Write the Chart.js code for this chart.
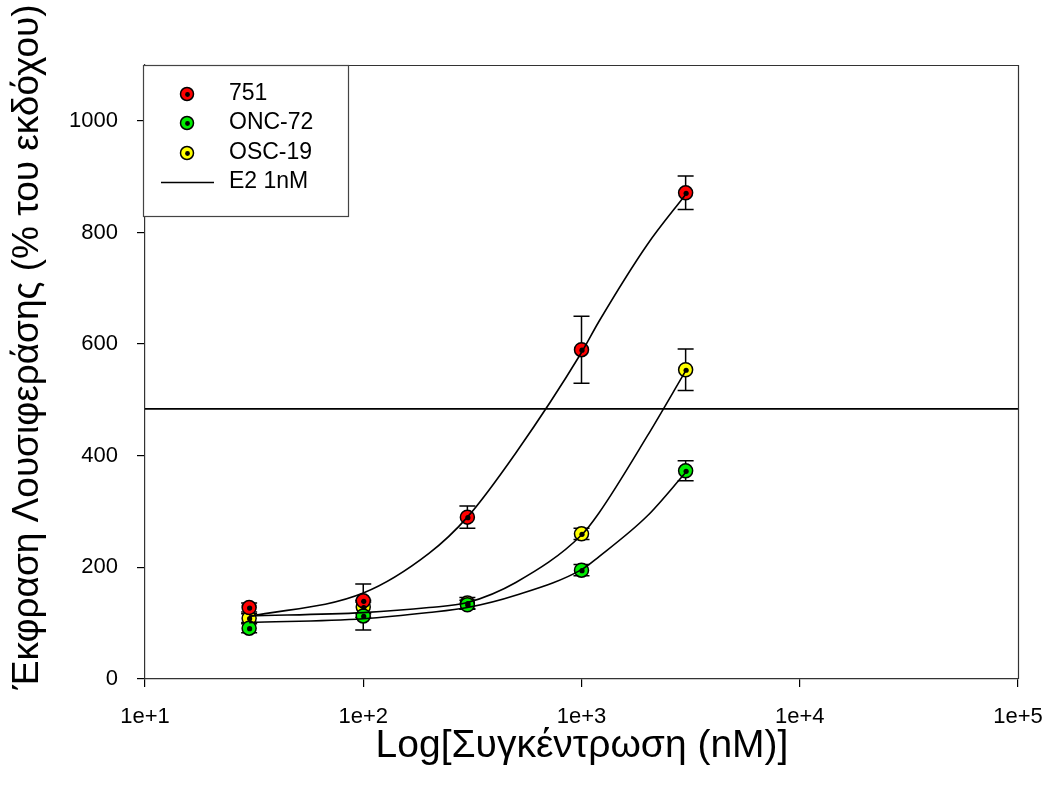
<!DOCTYPE html>
<html>
<head>
<meta charset="utf-8">
<script src="https://cdn.jsdelivr.net/npm/chart.js@4/dist/chart.umd.min.js"></script>
<style>
html,body{margin:0;padding:0;background:#fff;}
#wrap{width:1048px;height:792px;position:relative;}
</style>
</head>
<body>
<div id="wrap"><canvas id="c" width="1048" height="792"></canvas></div>
<script>
// ---- data ----
const concentrations = [30, 100, 300, 1000, 3000];
const series751 = [128, 140, 290, 590, 871];
const err751 = [8, 30, 20, 60, 30];
const seriesONC72 = [91, 113, 133, 195, 373];
const errONC72 = [8, 25, 8, 10, 18];
const seriesOSC19 = [109, 129, 136, 260, 554];
const errOSC19 = [8, 12, 10, 10, 37];

// fitted curves
const fitX = [30, 100, 200, 300, 500, 1000, 1200, 2000, 3000];
const fit751 = [112, 154, 225, 290, 405, 585, 640, 778, 868];
const fitOSC19 = [113, 119, 128, 137, 173, 258, 297, 435, 552];
const fitONC72 = [101, 108, 119, 128, 150, 196, 219, 292, 370];

const e2Level = 484;
const e2X = [10, 100000];

const xTicks = [10, 100, 1000, 10000, 100000];
const xTickLabels = ['1e+1', '1e+2', '1e+3', '1e+4', '1e+5'];
const yTicks = [0, 200, 400, 600, 800, 1000];

const seriesNames = ['751', 'ONC-72', 'OSC-19'];
const seriesColors = ['#ff0000', '#00ee00', '#ffff00'];
const E2Name = 'E2 1nM';

const FONT = "'Liberation Sans', Arial, sans-serif";

function pts(xs, ys){ return xs.map((x,i)=>({x:x, y:ys[i]})); }

const curveStyle = {type:'line', borderColor:'#000', borderWidth:1.6, pointRadius:0, fill:false, cubicInterpolationMode:'monotone'};
const markerStyle = (col)=>({type:'scatter', backgroundColor:col, borderColor:'#000', borderWidth:1.5, pointRadius:7, pointHoverRadius:7, showLine:false});

const datasets = [
  Object.assign({label:'fit751', data: pts(fitX, fit751)}, curveStyle),
  Object.assign({label:'fitONC72', data: pts(fitX, fitONC72)}, curveStyle),
  Object.assign({label:'fitOSC19', data: pts(fitX, fitOSC19)}, curveStyle),
  Object.assign({label:E2Name, data: pts(e2X, [e2Level, e2Level])}, {type:'line', borderColor:'#000', borderWidth:1.6, pointRadius:0, fill:false, tension:0}),
  Object.assign({label:seriesNames[0], data: pts(concentrations, series751), err: err751}, markerStyle(seriesColors[0])),
  Object.assign({label:seriesNames[1], data: pts(concentrations, seriesONC72), err: errONC72}, markerStyle(seriesColors[1])),
  Object.assign({label:seriesNames[2], data: pts(concentrations, seriesOSC19), err: errOSC19}, markerStyle(seriesColors[2]))
];

const decorPlugin = {
  id:'decor',
  beforeDatasetsDraw(chart){
    const ctx = chart.ctx, xs = chart.scales.x, ys = chart.scales.y;
    ctx.save();
    ctx.strokeStyle = '#000'; ctx.lineWidth = 1.5;
    chart.data.datasets.forEach(ds=>{
      if(!ds.err) return;
      ds.data.forEach((p,i)=>{
        const px = xs.getPixelForValue(p.x);
        const top = ys.getPixelForValue(p.y + ds.err[i]);
        const bot = ys.getPixelForValue(p.y - ds.err[i]);
        ctx.beginPath();
        ctx.moveTo(px, top); ctx.lineTo(px, bot);
        ctx.moveTo(px-8, top); ctx.lineTo(px+8, top);
        ctx.moveTo(px-8, bot); ctx.lineTo(px+8, bot);
        ctx.stroke();
      });
    });
    ctx.restore();
  },
  afterDatasetsDraw(chart){
    const ctx = chart.ctx;
    ctx.save();
    ctx.fillStyle = '#000';
    chart.data.datasets.forEach((ds,di)=>{
      if(!ds.err) return;
      chart.getDatasetMeta(di).data.forEach(el=>{
        ctx.beginPath(); ctx.arc(el.x+0.5, el.y+0.5, 2.6, 0, Math.PI*2); ctx.fill();
      });
    });
    ctx.restore();
  },
  afterDraw(chart){
    const ctx = chart.ctx, a = chart.chartArea;
    ctx.save();
    // frame top & right
    ctx.strokeStyle = '#333'; ctx.lineWidth = 1.2;
    ctx.beginPath();
    ctx.moveTo(a.left, a.top+0.5); ctx.lineTo(a.right+0.5, a.top+0.5); ctx.lineTo(a.right+0.5, a.bottom);
    ctx.stroke();
    // legend box
    const lx = 143, ly = 65, lw = 205, lh = 151;
    ctx.fillStyle = '#fff';
    ctx.fillRect(lx, ly, lw, lh);
    ctx.strokeStyle = '#444'; ctx.lineWidth = 1.2;
    ctx.strokeRect(lx+0.5, ly+0.5, lw, lh);
    const rows = [94, 123, 153, 182];
    ctx.font = '23px ' + FONT;
    ctx.textBaseline = 'middle'; ctx.textAlign = 'left';
    for(let i=0;i<3;i++){
      ctx.beginPath(); ctx.arc(187, rows[i], 6.5, 0, Math.PI*2);
      ctx.fillStyle = seriesColors[i]; ctx.fill();
      ctx.strokeStyle = '#000'; ctx.lineWidth = 1.5; ctx.stroke();
      ctx.beginPath(); ctx.arc(187.5, rows[i]+0.5, 2.4, 0, Math.PI*2); ctx.fillStyle='#000'; ctx.fill();
      ctx.fillStyle = '#000';
      ctx.fillText(seriesNames[i], 229, rows[i]);
    }
    ctx.beginPath(); ctx.moveTo(161, rows[3]+0.5); ctx.lineTo(214, rows[3]+0.5);
    ctx.strokeStyle='#000'; ctx.lineWidth=1.5; ctx.stroke();
    ctx.fillStyle='#000';
    ctx.fillText(E2Name, 229, rows[3]);
    // axis titles
    ctx.font = '39px ' + FONT;
    ctx.textAlign = 'center'; ctx.textBaseline = 'middle';
    ctx.fillText('Log[Συγκέντρωση (nM)]', 582, 746);
    ctx.translate(28, 347); ctx.rotate(-Math.PI/2);
    ctx.font = '37px ' + FONT;
    ctx.fillText('Έκφραση Λουσιφεράσης (% του εκδόχου)', 0, 0);
    ctx.restore();
  }
};

new Chart(document.getElementById('c'), {
  data:{datasets},
  options:{
    responsive:false, animation:false,
    layout:{padding:{left:0, top:65, right:30, bottom:0}},
    plugins:{legend:{display:false}, tooltip:{enabled:false}},
    scales:{
      x:{
        type:'logarithmic', min:10, max:100000,
        afterBuildTicks(s){ s.ticks = xTicks.map(v=>({value:v})); },
        afterFit(s){ s.height = 113; s.paddingLeft = 0; s.paddingRight = 0; },
        ticks:{ callback:(v)=>{ const i = xTicks.indexOf(v); return i>=0 ? xTickLabels[i] : ''; }, font:{family:FONT, size:22}, color:'#000', padding:17, maxRotation:0, autoSkip:false },
        grid:{ drawOnChartArea:false, drawTicks:true, tickLength:8, color:'#000', lineWidth:1.2 },
        border:{ display:true, color:'#333', width:1.2 }
      },
      y:{
        type:'linear', min:0, max:1100,
        afterBuildTicks(s){ s.ticks = yTicks.map(v=>({value:v})); },
        afterFit(s){ s.width = 145; s.paddingTop = 0; s.paddingBottom = 0; },
        ticks:{ callback:(v)=>String(v), font:{family:FONT, size:22}, color:'#000', padding:19 },
        grid:{ drawOnChartArea:false, drawTicks:true, tickLength:8, color:'#000', lineWidth:1.2 },
        border:{ display:true, color:'#333', width:1.2 }
      }
    }
  },
  plugins:[decorPlugin]
});
</script>
</body>
</html>
